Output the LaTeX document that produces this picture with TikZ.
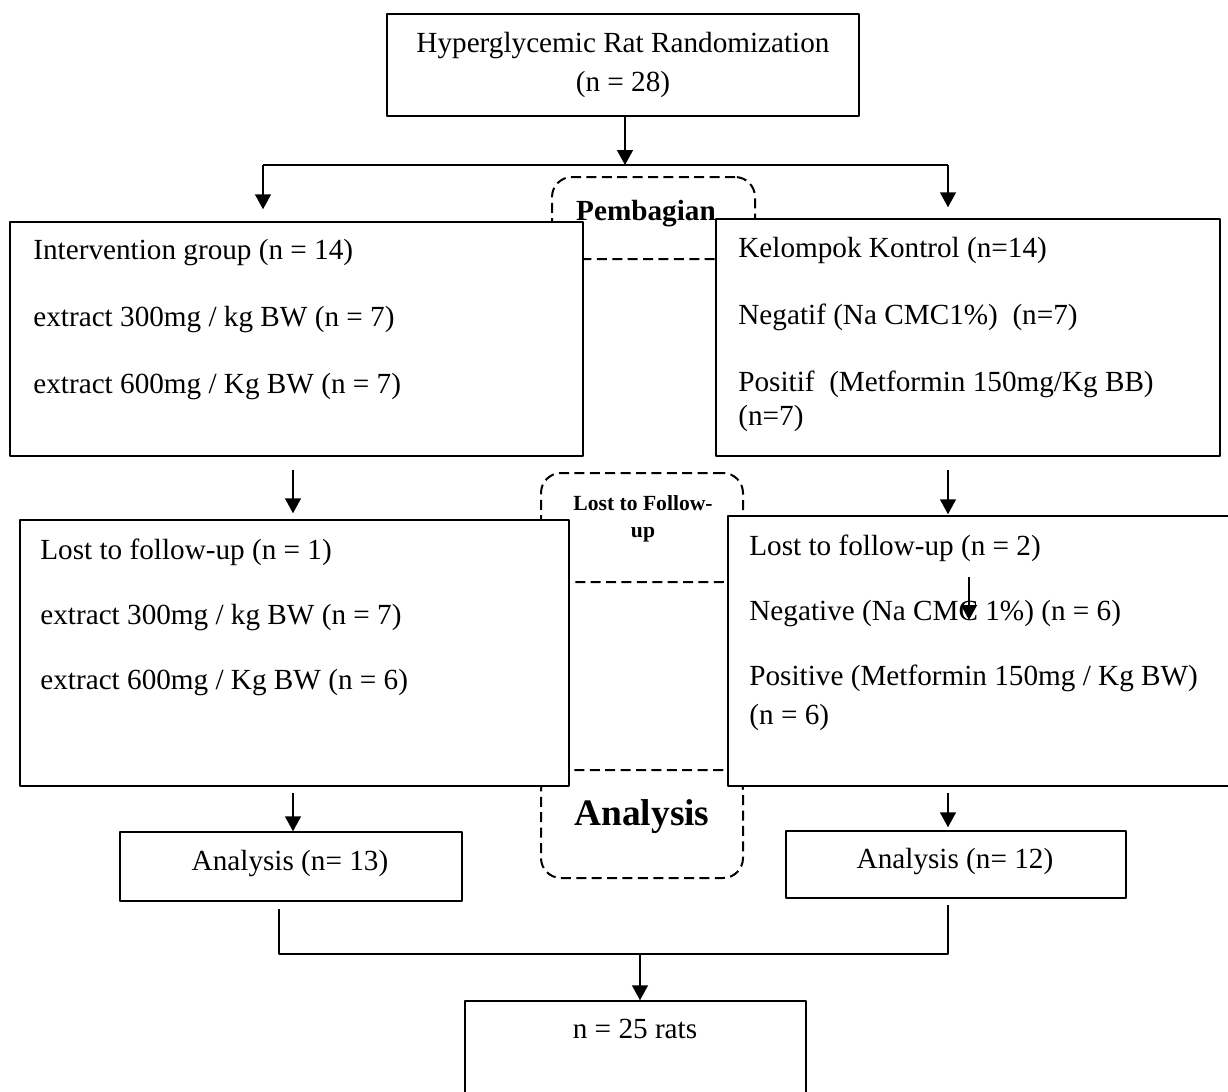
\documentclass[tikz,border=0pt]{standalone}
\usepackage{fontspec}
\setmainfont{Liberation Serif}
\usetikzlibrary{arrows.meta,fit}

\begin{document}
\begin{tikzpicture}[x=0.5pt,y=-0.5pt,line join=round,>={Triangle[width=8pt,length=7.5pt]}]
\tikzset{
  box/.style={draw,line width=0.75pt,fill=white,inner sep=0pt},
  dbox/.style={draw,line width=1pt,dash pattern=on 5pt off 2.7pt,rounded corners=10pt,inner sep=0pt},
  txt/.style={inner sep=0pt,align=left,font=\fontsize{14.6}{17}\selectfont},
  link/.style={line width=0.75pt}
}
\useasboundingbox (0,0) rectangle (1228,1092);

% dashed stage boxes (behind)
\node[dbox,fit={(552,177) (755,259)}] (divide) {};
\node[dbox,fit={(541,473) (743,582)}] (lost) {};
\node[dbox,fit={(541,770) (743,878)}] (anal) {};
\node[inner sep=0pt,anchor=base,font=\fontsize{14.6}{17}\selectfont\bfseries] (divideTxt) at (646,220) {Pembagian};
\node[inner sep=0pt,anchor=north,align=center,font=\fontsize{10.8}{13.5}\selectfont\bfseries] (lostTxt) at (643,495) {Lost to Follow-\\up};
\node[inner sep=0pt,anchor=base,font=\fontsize{18.7}{22}\selectfont\bfseries] (analTxt) at (642,825) {Analysis};

% boxes
\node[box,fit={(387,14) (859,116)}] (rand) {};
\node[box,fit={(10,222) (583,456)}] (grpI) {};
\node[box,fit={(716,219) (1220,456)}] (grpK) {};
\node[box,fit={(20,520) (569,786)}] (lostI) {};
\node[box,fit={(728,516) (1240,786)}] (lostK) {};
\node[box,fit={(120,832) (462,901)}] (anaI) {};
\node[box,fit={(786,831) (1126,898)}] (anaK) {};
\node[box,fit={(465,1001) (806,1100)}] (total) {};

% texts
\node[txt,align=center,anchor=north] (randTxt) at (623,32) {Hyperglycemic Rat Randomization\\[2.5pt](n = 28)};
\node[txt,anchor=north west] (grpITxt) at (33,239) {Intervention group (n = 14)\\[16.5pt]extract 300mg / kg BW (n = 7)\\[16.5pt]extract 600mg / Kg BW (n = 7)};
\node[txt,anchor=north west] (grpKTxt) at (738,237) {Kelompok Kontrol (n=14)\\[16.5pt]Negatif (Na CMC1\%)~ (n=7)\\[16.5pt]Positif~ (Metformin 150mg/Kg BB)\\(n=7)};
\node[txt,anchor=north west] (lostITxt) at (40,539) {Lost to follow-up (n = 1)\\[15.5pt]extract 300mg / kg BW (n = 7)\\[15.5pt]extract 600mg / Kg BW (n = 6)};
\node[txt,anchor=north west] (lostKTxt) at (749,535) {Lost to follow-up (n = 2)\\[15.5pt]Negative (Na CMC 1\%) (n = 6)\\[15.5pt]Positive (Metformin 150mg / Kg BW)\\[2.5pt](n = 6)};
\node[txt,anchor=base] (anaITxt) at (290,870) {Analysis (n= 13)};
\node[txt,anchor=base] (anaKTxt) at (955,868) {Analysis (n= 12)};
\node[txt,anchor=base] (totalTxt) at (635,1038) {n = 25 rats};

% connectors
\coordinate (split) at (625,165);
\coordinate (splitL) at (263,165);
\coordinate (splitR) at (948,165);
\coordinate (colI) at (293,0);
\coordinate (joinL) at (279,954);
\coordinate (joinR) at (948,954);
\coordinate (join) at (640,954);
\coordinate (stray) at (969,577);
\coordinate (strayEnd) at (969,620);

\draw[link,->] (rand.south -| split) -- (split);
\draw[link] (splitL) -- (splitR);
\draw[link,->,shorten >=6pt] (splitL) -- (splitL |- grpI.north);
\draw[link,->,shorten >=5.5pt] (splitR) -- (splitR |- grpK.north);
\draw[link,->,shorten <=6.5pt,shorten >=3pt] (grpI.south -| colI) -- (lostI.north -| colI);
\draw[link,->,shorten <=6.5pt,shorten >=0.5pt] (grpK.south -| splitR) -- (lostK.north -| splitR);
\draw[link,->,shorten <=3pt] (lostI.south -| colI) -- (anaI.north -| colI);
\draw[link,->,shorten <=3pt,shorten >=1.5pt] (lostK.south -| splitR) -- (anaK.north -| splitR);
\draw[link,shorten <=3.5pt,shorten >=3pt] (anaI.south -| joinL) -- (joinL) -- (joinR) -- (anaK.south -| joinR);
\draw[link,->] (join) -- (total.north -| join);
\draw[link,->] (stray) -- (strayEnd);
\end{tikzpicture}
\end{document}
